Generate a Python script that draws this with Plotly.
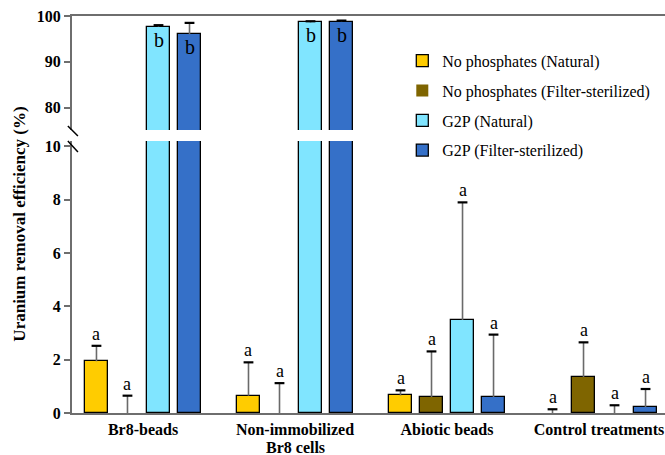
import plotly.graph_objects as go

groups = ["Br8-beads", "Non-immobilized<br>Br8 cells", "Abiotic beads", "Control treatments"]
series = ["No phosphates (Natural)", "No phosphates (Filter-sterilized)",
          "G2P (Natural)", "G2P (Filter-sterilized)"]
colors = ["#FFCC00", "#7F6500", "#80E5FF", "#3570C8"]

np_nat = [1.94, 0.65, 0.66, 0.0]
np_nat_err = [0.58, 1.25, 0.19, 0.14]
np_fs = [0.0, 0.0, 0.60, 1.35]
np_fs_err = [0.65, 1.12, 1.71, 1.30]
g2p_nat = [97.7, 98.6, 3.49, 0.0]
g2p_nat_err = [0.3, 0.25, 4.41, 0.29]
g2p_fs = [96.0, 98.8, 0.60, 0.22]
g2p_fs_err = [2.5, 0.2, 2.34, 0.68]

np_nat_let = ["a", "a", "a", "a"]
np_fs_let = ["a", "a", "a", "a"]
g2p_nat_let = ["b", "b", "a", "a"]
g2p_fs_let = ["b", "b", "a", "a"]

values = [np_nat, np_fs, g2p_nat, g2p_fs]
errors = [np_nat_err, np_fs_err, g2p_nat_err, g2p_fs_err]
letters = [np_nat_let, np_fs_let, g2p_nat_let, g2p_fs_let]

yticks_low = [0, 2, 4, 6, 8, 10]
yticks_high = [80, 90, 100]

FONT = "Liberation Serif"
BAR_W = 0.149
SLOT = 0.204
centers = [(-1.5 + i) * SLOT for i in range(4)]
xs = list(range(len(groups)))

fig = go.Figure()
for i in range(4):
    for ax in ["y", "y2"]:
        fig.add_trace(go.Bar(
            x=xs, y=values[i], name=series[i],
            width=[BAR_W] * len(xs), offset=[centers[i] - BAR_W / 2] * len(xs),
            marker=dict(color=colors[i],
                        line=dict(color="black",
                                  width=[1.3 if v > 0 else 0 for v in values[i]])),
            error_y=dict(type="data", symmetric=False, array=errors[i],
                         arrayminus=[0] * len(xs), color="#6a6a6a",
                         thickness=1.6, width=0),
            xaxis="x", yaxis=ax, showlegend=(ax == "y"),
            legendgroup=series[i],
        ))
        # black caps on top of the error bars
        fig.add_trace(go.Scatter(
            x=[x + centers[i] for x in xs],
            y=[v + e for v, e in zip(values[i], errors[i])],
            mode="markers", xaxis="x", yaxis=ax, showlegend=False,
            marker=dict(symbol="line-ew", size=7,
                        line=dict(color="black", width=2.2)),
            hoverinfo="skip",
        ))

annotations = []
for i in range(4):
    for j, x in enumerate(xs):
        v, e, t = values[i][j], errors[i][j], letters[i][j]
        if v > 10:
            annotations.append(dict(x=x + centers[i], y=v, xref="x", yref="y2",
                                    text=t, showarrow=False, yshift=-13,
                                    font=dict(family=FONT, size=20, color="black")))
        else:
            annotations.append(dict(x=x + centers[i], y=v + e, xref="x", yref="y",
                                    text=t, showarrow=False, yshift=12,
                                    font=dict(family=FONT, size=18, color="black")))

# extra lines of multi-line category labels, with tighter line spacing
for j, g in enumerate(groups):
    for k, line in enumerate(g.split("<br>")[1:], start=1):
        annotations.append(dict(x=xs[j], y=0, xref="x", yref="paper",
                                text=f"<b>{line}</b>", showarrow=False,
                                yanchor="middle", yshift=-19 - 15 * k,
                                font=dict(family=FONT, size=16, color="black")))

annotations.append(dict(
    x=-0.089, y=0.475, xref="paper", yref="paper", textangle=-90,
    xanchor="center", yanchor="middle",
    text="<b>Uranium removal efficiency (%)</b>", showarrow=False,
    font=dict(family=FONT, size=17, color="black")))

axis_line = dict(showline=True, linecolor="#6e6e6e", linewidth=2)

fig.update_layout(
    width=665, height=455,
    margin=dict(l=72, r=0, t=16, b=42, autoexpand=False),
    plot_bgcolor="white", paper_bgcolor="white",
    bargap=0.0, bargroupgap=0.0,
    font=dict(family=FONT, size=16, color="black"),
    xaxis=dict(range=[-0.467, 3.434], tickvals=xs,
               ticktext=[f"<b>{g.split('<br>')[0]}</b>" for g in groups],
               anchor="y", ticks="", showgrid=False, zeroline=False,
               ticklabelstandoff=1, automargin=False, ticklabeloverflow="allow",
               tickfont=dict(family=FONT, size=16, color="black"), **axis_line),
    xaxis2=dict(range=[-0.467, 3.434], overlaying="x", side="top", anchor="y2",
                showticklabels=False, ticks="", showgrid=False, zeroline=False,
                automargin=False, **axis_line),
    yaxis=dict(domain=[0, 0.685], range=[0, 10.2], tickvals=yticks_low,
               ticktext=[f"<b>{t}</b>" for t in yticks_low],
               ticks="outside", ticklen=6, tickwidth=2, tickcolor="#6e6e6e",
               showgrid=False, zeroline=False, automargin=False,
               tickfont=dict(family=FONT, size=16, color="black"), **axis_line),
    yaxis2=dict(domain=[0.713, 1], range=[75.15, 100], tickvals=yticks_high,
                ticktext=[f"<b>{t}</b>" for t in yticks_high],
                ticks="outside", ticklen=6, tickwidth=2, tickcolor="#6e6e6e",
                showgrid=False, zeroline=False, anchor="x", automargin=False,
                tickfont=dict(family=FONT, size=16, color="black"), **axis_line),
    legend=dict(x=0.557, y=0.93, xanchor="left", yanchor="top",
                bgcolor="rgba(0,0,0,0)", tracegroupgap=6,
                font=dict(family=FONT, size=16, color="black")),
    annotations=annotations,
    shapes=[
        dict(type="line", xref="paper", yref="paper", x0=-0.007, x1=0.010,
             y0=(413 - 126) / 397, y1=(413 - 136) / 397,
             line=dict(color="black", width=1.5)),
        dict(type="line", xref="paper", yref="paper", x0=-0.007, x1=0.010,
             y0=(413 - 141) / 397, y1=(413 - 152) / 397,
             line=dict(color="black", width=1.5)),
    ],
)
# invisible trace to activate the top frame axis
fig.add_trace(go.Scatter(x=[0], y=[90], xaxis="x2", yaxis="y2", mode="markers",
                         marker=dict(opacity=0), showlegend=False, hoverinfo="skip"))

fig.write_html("out.html")
